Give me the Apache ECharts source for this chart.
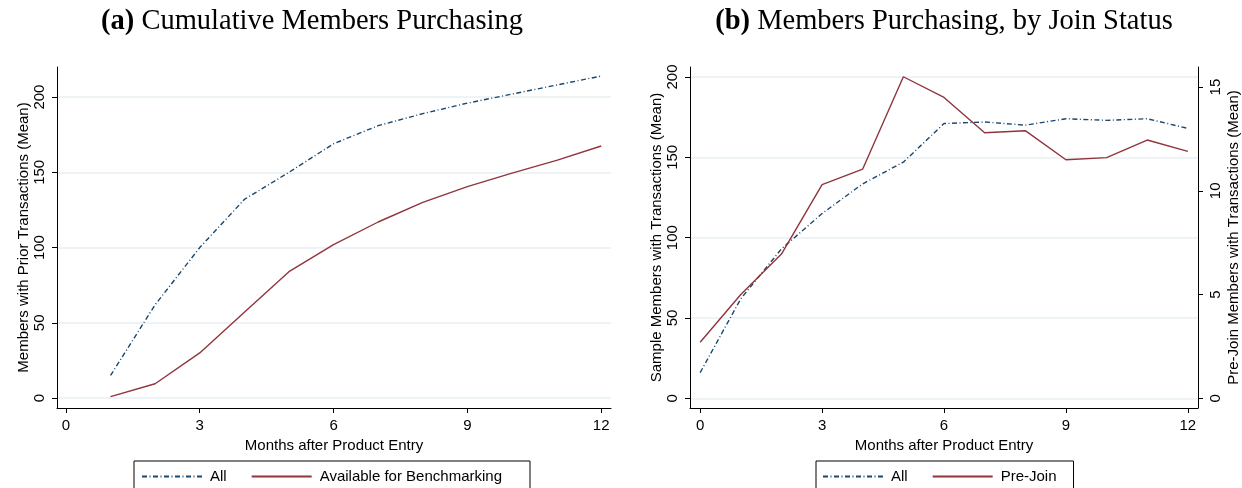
<!DOCTYPE html>
<html>
<head>
<meta charset="utf-8">
<script src="https://cdn.jsdelivr.net/npm/echarts@6/dist/echarts.min.js"></script>
<style>
  html, body { margin: 0; padding: 0; background: #fff; }
  #chart { width: 1242px; height: 488px; }
</style>
</head>
<body>
<div id="chart"></div>
<script>
// Panel (a): cumulative members purchasing, months 1-12
const monthsA = [1, 2, 3, 4, 5, 6, 7, 8, 9, 10, 11, 12];
const allA = [15, 62, 100, 132, 150, 169, 181, 189, 196, 202, 208, 214];
const benchA = [1, 9.5, 30, 57, 84, 102, 117, 130, 140.5, 149.5, 158, 167.5];

// Panel (b): members purchasing by join status, months 0-12
const monthsB = [0, 1, 2, 3, 4, 5, 6, 7, 8, 9, 10, 11, 12];
const allB = [16, 62, 93, 115, 133.5, 147, 171, 172, 170, 174, 173, 174, 168];
const preJoinB = [2.7, 5.0, 6.95, 10.3, 11.05, 15.5, 14.5, 12.8, 12.9, 11.5, 11.6, 12.45, 11.9];

// Tick labels
const xTicks = [0, 3, 6, 9, 12];
const yTicksA = [0, 50, 100, 150, 200];
const yTicksB = [0, 50, 100, 150, 200];
const yTicksBRight = [0, 5, 10, 15];

const NAVY = '#1a476f';
const MAROON = '#90353b';
const GRID = '#e8f0f2';
const SANS = '"Liberation Sans", Arial, sans-serif';
const SERIF = '"Liberation Serif", "Times New Roman", serif';
const TITLE_SIZE = 28.5;

const pairs = (xs, ys) => xs.map((x, i) => [x, ys[i]]);

function xAxisCfg(gridIndex, min, max) {
  return {
    type: 'value', gridIndex, min, max,
    name: 'Months after Product Entry', nameLocation: 'middle', nameGap: 24,
    nameTextStyle: { fontFamily: SANS, fontSize: 15, color: '#000' },
    axisLine: { show: true, onZero: false, lineStyle: { color: '#000', width: 1 } },
    axisTick: { show: true, length: 5, customValues: xTicks, lineStyle: { color: '#000' } },
    axisLabel: { customValues: xTicks, margin: 10, fontFamily: SANS, fontSize: 15, color: '#000' },
    splitLine: { show: false }
  };
}

function yAxisCfg(gridIndex, min, max, ticks, name, position, grid) {
  return {
    type: 'value', gridIndex, min, max, position,
    name, nameLocation: 'middle', nameRotate: 90, nameGap: position === 'right' ? 28 : 26,
    nameTextStyle: { fontFamily: SANS, fontSize: 15, color: '#000' },
    axisLine: { show: true, onZero: false, lineStyle: { color: '#000', width: 1 } },
    axisTick: { show: true, length: 5, customValues: ticks, lineStyle: { color: '#000' } },
    axisLabel: { customValues: ticks, rotate: 90, margin: 10, fontFamily: SANS, fontSize: 15, color: '#000' },
    splitLine: { show: grid, lineStyle: { color: GRID, width: 1.5 } }
  };
}

const dashDot = [5, 2.5, 1, 2.5];

function legendCfg(left, data, padding) {
  return {
    left, top: 461, orient: 'horizontal',
    data,
    icon: 'inherit',
    itemWidth: 60, itemHeight: 14, itemGap: 24,
    itemStyle: { opacity: 0 },
    padding,
    borderColor: '#000', borderWidth: 1, borderRadius: 0,
    textStyle: { fontFamily: SANS, fontSize: 15, color: '#000', padding: [0, 0, 0, 3] },
    selectedMode: false
  };
}

function titleText(x, tag, text) {
  return {
    type: 'text', x, y: 22,
    style: {
      text: '{b|' + tag + '} ' + text,
      align: 'center', verticalAlign: 'middle',
      font: TITLE_SIZE + 'px ' + SERIF, fill: '#000',
      rich: { b: { fontFamily: SERIF, fontSize: TITLE_SIZE, fontWeight: 'bold', fill: '#000' } }
    }
  };
}

const option = {
  animation: false,
  backgroundColor: '#fff',
  graphic: [
    titleText(312, '(a)', 'Cumulative Members Purchasing'),
    titleText(944, '(b)', 'Members Purchasing, by Join Status')
  ],
  grid: [
    { left: 57, right: 631, top: 67, bottom: 80, containLabel: false },
    { left: 690, right: 44, top: 67, bottom: 80, containLabel: false }
  ],
  xAxis: [xAxisCfg(0, -0.2, 12.22), xAxisCfg(1, -0.25, 12.25)],
  yAxis: [
    yAxisCfg(0, -6.6, 220, yTicksA, 'Members with Prior Transactions (Mean)', 'left', true),
    yAxisCfg(1, -6.0, 206.2, yTicksB, 'Sample Members with Transactions (Mean)', 'left', true),
    yAxisCfg(1, -0.468, 15.97, yTicksBRight, 'Pre-Join Members with Transactions (Mean)', 'right', false)
  ],
  legend: [
    legendCfg(134, ['All', 'Available for Benchmarking'], [8, 28, 20, 7]),
    legendCfg(816, ['All', 'Pre-Join'], [8, 17, 20, 6])
  ],
  series: [
    {
      name: 'All', type: 'line', xAxisIndex: 0, yAxisIndex: 0,
      data: pairs(monthsA, allA), symbol: 'none',
      lineStyle: { color: NAVY, width: 1.4, type: dashDot }, itemStyle: { color: NAVY }
    },
    {
      name: 'Available for Benchmarking', type: 'line', xAxisIndex: 0, yAxisIndex: 0,
      data: pairs(monthsA, benchA), symbol: 'none',
      lineStyle: { color: MAROON, width: 1.4 }, itemStyle: { color: MAROON }
    },
    {
      name: 'All', type: 'line', xAxisIndex: 1, yAxisIndex: 1,
      data: pairs(monthsB, allB), symbol: 'none',
      lineStyle: { color: NAVY, width: 1.4, type: dashDot }, itemStyle: { color: NAVY }
    },
    {
      name: 'Pre-Join', type: 'line', xAxisIndex: 1, yAxisIndex: 2,
      data: pairs(monthsB, preJoinB), symbol: 'none',
      lineStyle: { color: MAROON, width: 1.4 }, itemStyle: { color: MAROON }
    }
  ]
};

const chart = echarts.init(document.getElementById('chart'), null, { renderer: 'canvas' });
chart.setOption(option);
</script>
</body>
</html>
